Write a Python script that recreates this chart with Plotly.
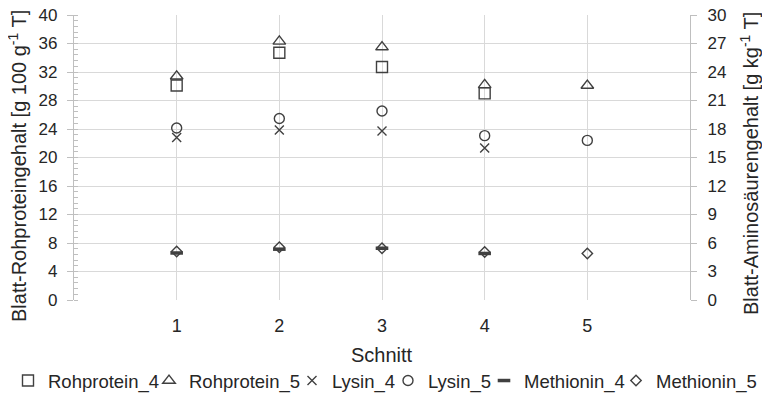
import plotly.graph_objects as go

schnitt = [1, 2, 3, 4, 5]
rohprotein_4 = [30.1, 34.7, 32.7, 29.0, None]
rohprotein_5 = [31.4, 36.3, 35.5, 30.2, 30.1]
lysin_4 = [17.1, 17.9, 17.8, 16.0, None]
lysin_5 = [18.1, 19.1, 19.9, 17.3, 16.8]
methionin_4 = [4.95, 5.35, 5.45, 4.9, None]
methionin_5 = [5.1, 5.55, 5.45, 5.05, 4.9]

left_ticks = [0, 4, 8, 12, 16, 20, 24, 28, 32, 36, 40]
right_ticks = [0, 3, 6, 9, 12, 15, 18, 21, 24, 27, 30]

mc = "#404040"
tc = "#262626"
font = "Liberation Sans, Arial, sans-serif"

# page body has an 8px margin; the figure is sized to fit the window
OFF = 8
W, H = 770 - OFF, 393 - OFF
L, R, T, B = 74 - OFF, W - (690 - OFF), 15 - OFF, H - (300 - OFF)
PW, PH = W - L - R, H - T - B

def px(wx):  # window x -> paper x
    return (wx - OFF - L) / PW

def py(wy):  # window y -> paper y
    return 1 - (wy - OFF - T) / PH

fig = go.Figure()

# text start positions of legend entries (window px from left)
legend_text_x = [48, 190, 333, 429, 525, 657]

def add(i, name, y, symbol, size, axis, lw=1.4):
    leg = "legend" if i == 0 else f"legend{i+1}"
    fig.add_trace(go.Scatter(
        x=schnitt, y=y, name=name, mode="markers", yaxis=axis, legend=leg,
        marker=dict(symbol=symbol, size=size, color=mc,
                    line=dict(color=mc, width=lw)),
        cliponaxis=False,
    ))

add(0, "Rohprotein_4", rohprotein_4, "square-open", 11, "y")
add(1, "Rohprotein_5", rohprotein_5, "triangle-up-open", 11, "y")
add(2, "Lysin_4", lysin_4, "x-thin-open", 9, "y2")
add(3, "Lysin_5", lysin_5, "circle-open", 10, "y2")
add(4, "Methionin_4", methionin_4, "line-ew-open", 9, "y2", lw=3.5)
add(5, "Methionin_5", methionin_5, "diamond-open", 8, "y2")

legends = {}
for i, tx in enumerate(legend_text_x):
    key = "legend" if i == 0 else f"legend{i+1}"
    legends[key] = dict(
        orientation="h", xref="container", yref="container",
        x=max(tx - 49, 0) / W, xanchor="left", y=1 - (381 - OFF) / H, yanchor="middle",
        font=dict(size=18.5, color=tc, family=font), itemwidth=30,
        bgcolor="rgba(0,0,0,0)", borderwidth=0,
    )

fig.update_layout(
    width=W, height=H,
    margin=dict(l=L, r=R, t=T, b=B),
    paper_bgcolor="white", plot_bgcolor="white",
    font=dict(family=font, size=18, color=tc),
    showlegend=True,
    xaxis=dict(range=[0, 6], tickvals=schnitt, ticktext=[str(v) for v in schnitt],
               showgrid=True, gridcolor="#d9d9d9", gridwidth=1.3,
               showline=False, zeroline=False, ticks="", automargin=False,
               ticklabelstandoff=13,
               tickfont=dict(size=18)),
    yaxis=dict(range=[0, 40], tickvals=left_ticks, showgrid=True, gridcolor="#d9d9d9",
               gridwidth=1.3, showline=True, linecolor="#bfbfbf", linewidth=1.3,
               zeroline=False, ticks="outside", ticklen=6, tickcolor="#bfbfbf",
               automargin=False, ticklabelstandoff=6, ticklabeloverflow="allow",
               minor=dict(dtick=0.8, ticks="inside", ticklen=4, tickcolor="#bfbfbf", showgrid=False),
               tickfont=dict(size=17)),
    yaxis2=dict(range=[0, 30], tickvals=right_ticks, overlaying="y", side="right",
                showgrid=False, showline=True, linecolor="#bfbfbf", linewidth=1.3,
                zeroline=False, ticks="outside", ticklen=6, tickcolor="#bfbfbf",
                automargin=False, ticklabelstandoff=7, ticklabeloverflow="allow",
                tickfont=dict(size=17)),
    annotations=[
        dict(text="Blatt-Rohproteingehalt [g 100 g<sup>-1</sup> T]", textangle=-90,
             xref="paper", yref="paper", x=px(17), y=py(166),
             xanchor="center", yanchor="middle", showarrow=False,
             font=dict(size=20, color=tc)),
        dict(text="Blatt-Aminosäurengehalt [g kg<sup>-1</sup> T]", textangle=-90,
             xref="paper", yref="paper", x=px(749), y=py(164),
             xanchor="center", yanchor="middle", showarrow=False,
             font=dict(size=20, color=tc)),
        dict(text="Schnitt", xref="paper", yref="paper", x=0.5, y=py(355),
             xanchor="center", yanchor="middle", showarrow=False,
             font=dict(size=20, color=tc)),
    ],
    **legends,
)

fig.write_html("out.html")
